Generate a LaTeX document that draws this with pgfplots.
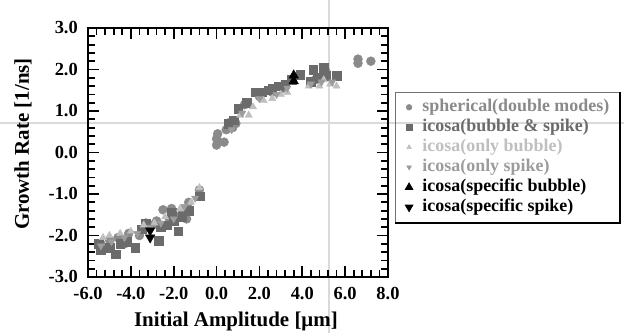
\documentclass[border=0pt]{standalone}
\usepackage{pgfplots}
\pgfplotsset{compat=1.18}
\usepackage{fontspec}
\setmainfont{Liberation Serif}
\definecolor{csph}{HTML}{8A8A8A}
\definecolor{cbs}{HTML}{6B6B6B}
\definecolor{cob}{HTML}{BFBFBF}
\definecolor{cos}{HTML}{9C9C9C}
\definecolor{cline}{HTML}{DADADA}
\begin{document}
\begin{tikzpicture}
\useasboundingbox (-88bp,-56bp) rectangle (536bp,277bp);
\draw[cline, line width=1.5bp] (241bp,-60bp) -- (241bp,280bp);
\draw[cline, line width=1.5bp] (-90bp,154bp) -- (540bp,154bp);
\begin{axis}[
  scale only axis, width=300bp, height=249bp,
  xmin=-6, xmax=8, ymin=-3, ymax=3,
  xtick={-6,-4,...,8}, ytick={-3,-2,...,3},
  xticklabels={-6.0,-4.0,-2.0,0.0,2.0,4.0,6.0,8.0},
  yticklabels={-3.0,-2.0,-1.0,0.0,1.0,2.0,3.0},
  minor tick num=4,
  tick align=inside,
  major tick length=11bp, minor tick length=7bp,
  tick style={line width=1.8bp, black},
  tick label style={font=\fontsize{18.5}{19}\selectfont\bfseries, inner sep=0pt},
  yticklabel style={xshift=-10bp},
  xticklabel style={yshift=-10bp},
  xlabel={Initial Amplitude [μm]},
  ylabel={Growth Rate [1/ns]},
  label style={font=\fontsize{21}{22}\selectfont\bfseries},
  xlabel style={at={(axis description cs:0.493,-0.18)}, anchor=center},
  ylabel style={at={(axis description cs:-0.217,0.534)}, anchor=center},
  legend style={at={(1.023,0.743)}, anchor=north west, fill=none,
    draw=black!55, line width=0.6bp,
    font=\fontsize{18}{20}\selectfont\bfseries,
    nodes={inner sep=0.5bp, text height=14bp, text depth=5bp},
    /tikz/every odd column/.append style={column sep=9bp},
    inner xsep=10bp, inner ysep=5bp, name=leg},
  legend cell align=left,
]
\addplot[only marks, mark=*, mark size=4.5bp, draw=csph, fill=csph,
  legend image post style={mark size=2.8bp}] coordinates {
(0.0,0.18)(0.0,0.33)(0.05,0.45)(0.35,0.25)(0.45,0.55)(0.6,0.72)(0.75,0.6)(0.9,0.7)
(1.3,1.15)(2.0,1.35)(2.6,1.45)(3.1,1.55)(4.6,1.75)(5.1,1.95)(6.6,2.15)(6.6,2.25)(7.2,2.2)
(-0.8,-0.9)(-1.3,-1.2)(-1.6,-1.4)(-2.1,-1.35)(-2.5,-1.38)(-2.2,-1.6)(-2.8,-1.65)(-3.3,-1.7)
(-3.6,-2.0)(-4.1,-1.95)(-4.6,-2.05)(-5.0,-2.1)(-5.4,-2.2)(-4.3,-2.2)(-3.0,-1.75)(-1.8,-1.55)(-1.4,-1.6)
};
\addlegendentry[text=csph]{spherical(double modes)}

\addplot[only marks, mark=square*, mark size=4.3bp, draw=cbs, fill=cbs,
  legend image post style={mark size=2.8bp}] coordinates {
(0.55,0.7)(0.8,0.78)(1.0,1.05)(1.4,1.2)(1.8,1.45)(2.1,1.45)(2.4,1.5)(2.6,1.55)(2.9,1.6)
(3.2,1.65)(3.5,1.75)(3.9,1.88)(4.5,2.0)(5.0,2.05)(4.7,1.8)(5.1,1.85)(5.6,1.85)(4.4,1.7)
(-0.8,-1.05)(-1.3,-1.4)(-1.6,-1.55)(-1.8,-1.9)(-2.0,-1.65)(-2.3,-1.75)(-2.6,-1.8)(-2.7,-2.12)
(-3.3,-1.7)(-3.5,-1.85)(-3.8,-2.3)(-4.2,-2.15)(-4.7,-2.45)(-5.0,-2.3)(-5.5,-2.2)(-5.4,-2.35)(-4.5,-2.2)(-2.1,-1.45)
};
\addlegendentry[text=cbs]{icosa(bubble \& spike)}

\addplot[only marks, mark=triangle*, mark size=4.2bp, draw=cob, fill=cob,
  legend image post style={mark size=2.6bp}] coordinates {
(1.1,0.9)(1.5,0.9)(1.7,1.1)(2.2,1.25)(2.6,1.3)(3.0,1.4)(3.3,1.45)(4.3,1.6)(4.8,1.6)(5.3,1.65)(5.6,1.6)(5.0,1.75)
(-0.8,-0.85)(-1.2,-1.2)(-1.7,-1.35)(-2.4,-1.55)(-2.9,-1.7)(-3.4,-1.75)(-4.0,-1.9)(-4.5,-1.95)(-5.0,-2.0)(-5.3,-2.05)
};
\addlegendentry[text=cob]{icosa(only bubble)}

\addplot[only marks, mark=triangle*, mark options={rotate=180}, mark size=4.2bp, draw=cos, fill=cos,
  legend image post style={mark size=2.6bp}] coordinates {
(0.7,0.55)(1.2,0.95)(2.0,1.3)(2.8,1.4)(3.3,1.55)(4.4,1.65)(4.9,1.7)(5.4,1.7)
(-1.0,-1.1)(-1.5,-1.3)(-2.0,-1.6)(-2.6,-1.7)(-3.1,-1.8)(-3.7,-1.95)(-4.3,-2.05)(-4.9,-2.15)(-5.4,-2.25)
};
\addlegendentry[text=cos]{icosa(only spike)}

\addplot[only marks, mark=triangle*, mark size=5.5bp, draw=black, fill=black,
  legend image post style={mark size=4.5bp}] coordinates {
(3.6,1.72)(3.6,1.86)
};
\addlegendentry[text=black]{icosa(specific bubble)}

\addplot[only marks, mark=triangle*, mark options={rotate=180}, mark size=5.5bp, draw=black, fill=black,
  legend image post style={mark size=4.5bp}] coordinates {
(-3.1,-1.88)(-3.1,-2.05)
};
\addlegendentry[text=black]{icosa(specific spike)}
\end{axis}
\draw[line width=2.2bp, black] (0,0) rectangle (300bp,249bp);
\draw[line width=2bp] (leg.south west) -- (leg.south east) -- (leg.north east);
\end{tikzpicture}
\end{document}
